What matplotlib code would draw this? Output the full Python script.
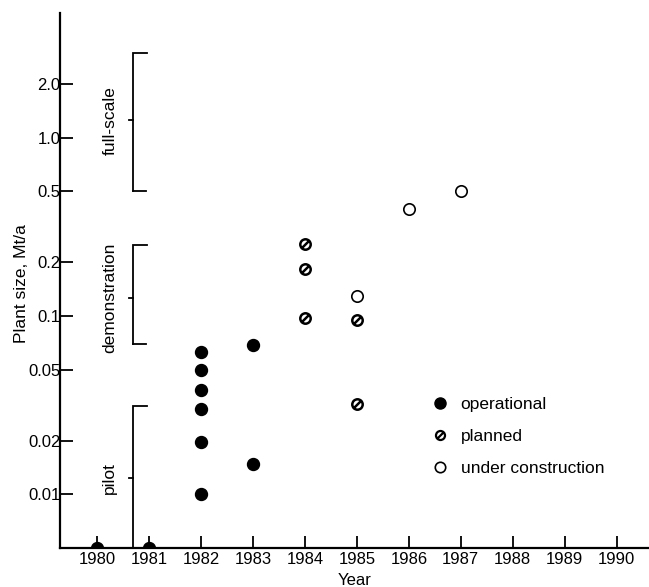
import matplotlib
matplotlib.use('Agg')
import matplotlib.pyplot as plt
from matplotlib.path import Path
from matplotlib.lines import Line2D

plt.rcParams['font.family'] = ['Liberation Sans', 'DejaVu Sans']

# data
operational_years = [1980, 1981, 1982, 1982, 1982, 1982, 1982, 1982, 1983, 1983]
operational_sizes = [0.005, 0.005, 0.01, 0.0196, 0.030, 0.0384, 0.0497, 0.063, 0.0147, 0.0687]

planned_years = [1984, 1984, 1984, 1985, 1985]
planned_sizes = [0.252, 0.183, 0.098, 0.0945, 0.0319]

construction_years = [1985, 1986, 1987]
construction_sizes = [0.129, 0.40, 0.50]

year_ticks = list(range(1980, 1991))
size_ticks = [0.01, 0.02, 0.05, 0.1, 0.2, 0.5, 1.0, 2.0]
size_tick_labels = ['0.01', '0.02', '0.05', '0.1', '0.2', '0.5', '1.0', '2.0']

# plant classes: name, lower, upper, middle
class_names = ['pilot', 'demonstration', 'full-scale']
class_lower = [0.005, 0.07, 0.5]
class_upper = [0.0314, 0.25, 3.0]
class_middle = [0.0123, 0.126, 1.25]

# slashed circle marker for "planned"
slash_marker = Path.make_compound_path(
    Path.unit_circle(),
    Path([[-0.75, -0.75], [0.75, 0.75]], [Path.MOVETO, Path.LINETO]))

fig = plt.figure(figsize=(6.49, 5.87), dpi=100)
ax = fig.add_axes([60 / 649, 1 - 548 / 587, 1 - 60 / 649, (548 - 13) / 587])
ax.set_yscale('log')
ax.set_xlim(1979.29, 1990.62)
ax.set_ylim(0.005, 5.0)

ax.plot(operational_years, operational_sizes, 'o', color='black', ms=8.6,
        mec='black', clip_on=True, zorder=3)
ax.plot(planned_years, planned_sizes, ls='none', marker=slash_marker, ms=7.5,
        mfc='none', mec='black', mew=1.8, zorder=3)
ax.plot(construction_years, construction_sizes, 'o', ms=8.2, mfc='white',
        mec='black', mew=1.2, zorder=3)

# class brackets
bx = 1980.69
for name, lo, hi, mid in zip(class_names, class_lower, class_upper, class_middle):
    ax.plot([bx + 0.27, bx, bx], [hi, hi, lo], color='black', lw=1.3,
            solid_joinstyle='miter', clip_on=False)
    if lo > 0.005:
        ax.plot([bx, bx + 0.25], [lo, lo], color='black', lw=1.3)
    ax.plot([bx - 0.07, bx], [mid, mid], color='black', lw=1.3)
    ax.text(bx - 0.44, mid, name, rotation=90, ha='center', va='center',
            fontsize=12.5)

ax.spines['top'].set_visible(False)
ax.spines['right'].set_visible(False)
ax.spines['left'].set_linewidth(1.6)
ax.spines['bottom'].set_linewidth(1.6)

ax.set_xticks(year_ticks)
ax.set_xticklabels([str(y) for y in year_ticks])
ax.set_yticks(size_ticks)
ax.set_yticklabels(size_tick_labels)
ax.minorticks_off()
ax.tick_params(axis='both', direction='in', length=9, width=1.3, labelsize=12)
ax.tick_params(axis='x', pad=3)
ax.tick_params(axis='y', pad=-0.5)

ax.set_xlabel('Year', fontsize=12, labelpad=4)
fig.text(21.5 / 649, 1 - 284 / 587, 'Plant size, Mt/a', rotation=90,
         ha='center', va='center', fontsize=12.5)

handles = [
    Line2D([], [], ls='none', marker='o', color='black', ms=8),
    Line2D([], [], ls='none', marker=slash_marker, mfc='none', mec='black',
           mew=1.6, ms=6.5),
    Line2D([], [], ls='none', marker='o', mfc='white', mec='black', mew=1.2,
           ms=7.5),
]
ax.legend(handles, ['operational', 'planned', 'under construction'],
          loc='upper left', bbox_to_anchor=(0.630, 0.282), frameon=False,
          borderpad=0, handlelength=1.0, handletextpad=0.7, labelspacing=0.96,
          fontsize=12.5, borderaxespad=0)

fig.savefig('out.png', dpi=100)
